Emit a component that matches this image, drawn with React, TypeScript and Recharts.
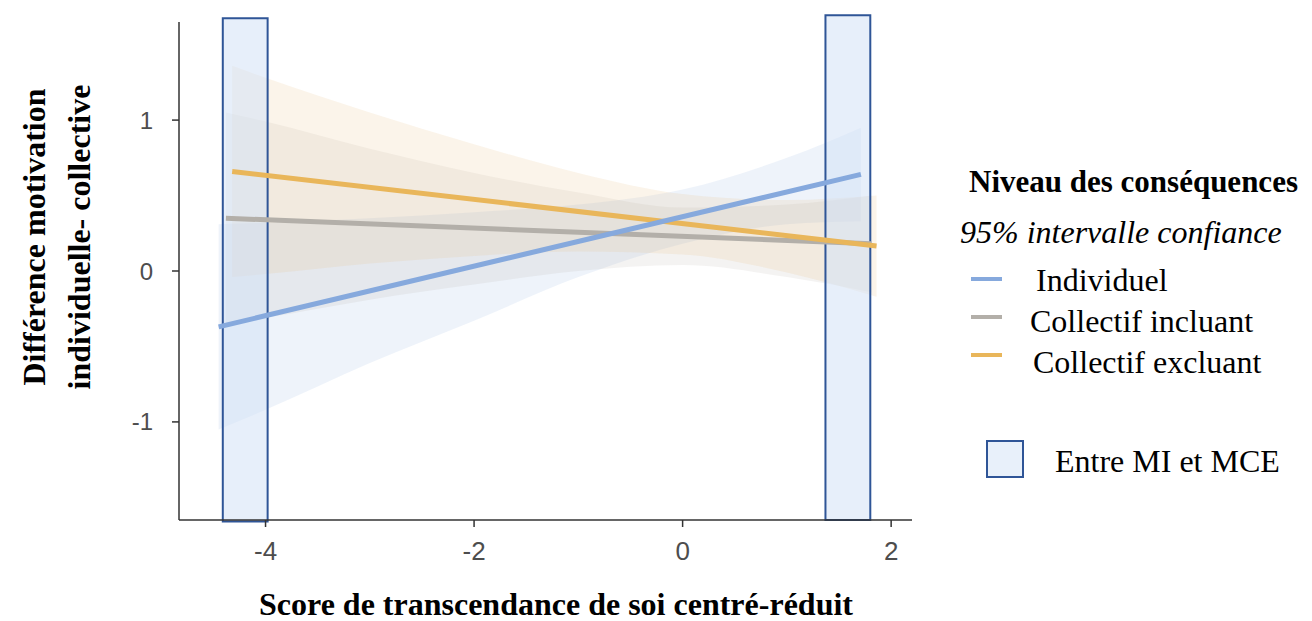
import {
  ComposedChart,
  Line,
  Area,
  XAxis,
  YAxis,
  ReferenceArea
} from "recharts";

// fitted lines (x = score centré-réduit, y = différence)
const individuelLine = [
  { x: -4.45, y: -0.37 },
  { x: 1.71, y: 0.64 }
];
const inclLine = [
  { x: -4.38, y: 0.35 },
  { x: 1.81, y: 0.18 }
];
const exclLine = [
  { x: -4.32, y: 0.66 },
  { x: 1.86, y: 0.165 }
];

// 95% ribbons [low, high]
const individuelBand = [
  { x: -4.45, ci: [-1.05, 0.31] },
  { x: -4, ci: [-0.92, 0.32] },
  { x: -3, ci: [-0.61, 0.35] },
  { x: -2, ci: [-0.33, 0.39] },
  { x: -1, ci: [-0.04, 0.44] },
  { x: 0, ci: [0.18, 0.54] },
  { x: 1, ci: [0.31, 0.75] },
  { x: 1.71, ci: [0.33, 0.95] }
];
const inclBand = [
  { x: -4.38, ci: [-0.35, 1.05] },
  { x: -4, ci: [-0.31, 0.99] },
  { x: -3, ci: [-0.19, 0.81] },
  { x: -2, ci: [-0.09, 0.65] },
  { x: -1, ci: [0.0, 0.52] },
  { x: 0, ci: [0.04, 0.42] },
  { x: 1, ci: [-0.04, 0.44] },
  { x: 1.81, ci: [-0.14, 0.5] }
];
const exclBand = [
  { x: -4.32, ci: [-0.04, 1.36] },
  { x: -4, ci: [-0.02, 1.28] },
  { x: -3, ci: [0.05, 1.05] },
  { x: -2, ci: [0.1, 0.84] },
  { x: -1, ci: [0.13, 0.65] },
  { x: 0, ci: [0.11, 0.51] },
  { x: 1, ci: [-0.01, 0.47] },
  { x: 1.86, ci: [-0.17, 0.5] }
];

// zones "Entre MI et MCE"
const zones = [
  { x1: -4.41, x2: -3.98, y1: -1.66, y2: 1.675 },
  { x1: 1.37, x2: 1.8, y1: -1.65, y2: 1.695 }
];

const xTicks = [-4, -2, 0, 2];
const yTicks = [-1, 0, 1];

const BLUE = "#86a9dd";
const GRAY = "#b3afa9";
const ORANGE = "#e9b65a";
const BOX = "#2f5597";

const serif = "'Liberation Serif', 'Times New Roman', serif";
const sans = "'Liberation Sans', Arial, sans-serif";

const legendItems = [
  { name: "Individuel", color: BLUE, dx: 1036 },
  { name: "Collectif incluant", color: GRAY, dx: 1030 },
  { name: "Collectif excluant", color: ORANGE, dx: 1033 }
];

export default function App() {
  const label = (left: number, top: number, extra: any = {}) => ({
    position: "absolute" as const,
    left,
    top,
    transform: "translateY(-50%)",
    whiteSpace: "nowrap" as const,
    fontSize: 32,
    lineHeight: "36px",
    color: "#000",
    ...extra
  });

  return (
    <div style={{ position: "relative", width: 1312, height: 621, marginTop: -8, marginLeft: -8, background: "#fff", fontFamily: serif, overflow: "hidden" }}>
      <ComposedChart
        width={1312}
        height={621}
        margin={{ top: 22, right: 400, bottom: 71, left: 119 }}
      >
        <XAxis
          dataKey="x"
          type="number"
          domain={[-4.83, 2.2]}
          ticks={xTicks}
          allowDataOverflow
          height={30}
          tick={{ fill: "#4d4d4d", fontSize: 26, fontFamily: sans }}
          tickSize={7}
          tickMargin={15}
          stroke="#333"
          strokeWidth={1.5}
        />
        <YAxis
          type="number"
          domain={[-1.65, 1.65]}
          ticks={yTicks}
          allowDataOverflow
          width={60}
          tick={{ fill: "#4d4d4d", fontSize: 24, fontFamily: sans }}
          tickSize={7}
          tickMargin={19}
          stroke="#333"
          strokeWidth={1.5}
        />

        <Area data={individuelBand} dataKey="ci" type="monotone" stroke="none" fill="#8fb0e0" fillOpacity={0.15} isAnimationActive={false} />
        <Area data={inclBand} dataKey="ci" type="monotone" stroke="none" fill="#a9a49c" fillOpacity={0.13} isAnimationActive={false} />
        <Area data={exclBand} dataKey="ci" type="monotone" stroke="none" fill="#e9c38a" fillOpacity={0.18} isAnimationActive={false} />

        <Line data={inclLine} dataKey="y" stroke={GRAY} strokeWidth={5} dot={false} isAnimationActive={false} />
        <Line data={exclLine} dataKey="y" stroke={ORANGE} strokeWidth={5} dot={false} isAnimationActive={false} />
        <Line data={individuelLine} dataKey="y" stroke={BLUE} strokeWidth={5} dot={false} isAnimationActive={false} />

        {zones.map((z, i) => (
          <ReferenceArea
            key={i}
            x1={z.x1}
            x2={z.x2}
            y1={z.y1}
            y2={z.y2}
            ifOverflow="visible"
            fill="#d3e2f5"
            fillOpacity={0.55}
            stroke={BOX}
            strokeWidth={2}
          />
        ))}
      </ComposedChart>

      {/* y axis title */}
      <div
        style={{
          position: "absolute",
          left: 57,
          top: 237,
          transform: "translate(-50%, -50%) rotate(-90deg)",
          whiteSpace: "nowrap",
          textAlign: "center",
          fontWeight: "bold",
          fontSize: 32,
          lineHeight: "45px",
          color: "#000"
        }}
      >
        Différence motivation
        <br />
        individuelle- collective
      </div>

      {/* x axis title */}
      <div
        style={{
          position: "absolute",
          left: 556,
          top: 604,
          transform: "translate(-50%, -50%)",
          whiteSpace: "nowrap",
          fontWeight: "bold",
          fontSize: 32,
          lineHeight: "30px",
          color: "#000"
        }}
      >
        Score de transcendance de soi centré-réduit
      </div>

      {/* legend */}
      <div style={label(969, 182, { fontWeight: "bold", fontSize: 31 })}>Niveau des conséquences</div>
      <div style={label(960, 232, { fontStyle: "italic" })}>95% intervalle confiance</div>
      {legendItems.map((it, i) => (
        <div key={it.name}>
          <div
            style={{
              position: "absolute",
              left: 971,
              top: 277 + i * 38,
              width: 31,
              height: 4,
              background: it.color
            }}
          />
          <div style={label(it.dx, 280 + i * 41)}>{it.name}</div>
        </div>
      ))}
      <div
        style={{
          position: "absolute",
          left: 986,
          top: 440,
          width: 34,
          height: 34,
          background: "#e8f0fa",
          border: `2px solid ${BOX}`
        }}
      />
      <div style={label(1055, 461)}>Entre MI et MCE</div>
    </div>
  );
}
